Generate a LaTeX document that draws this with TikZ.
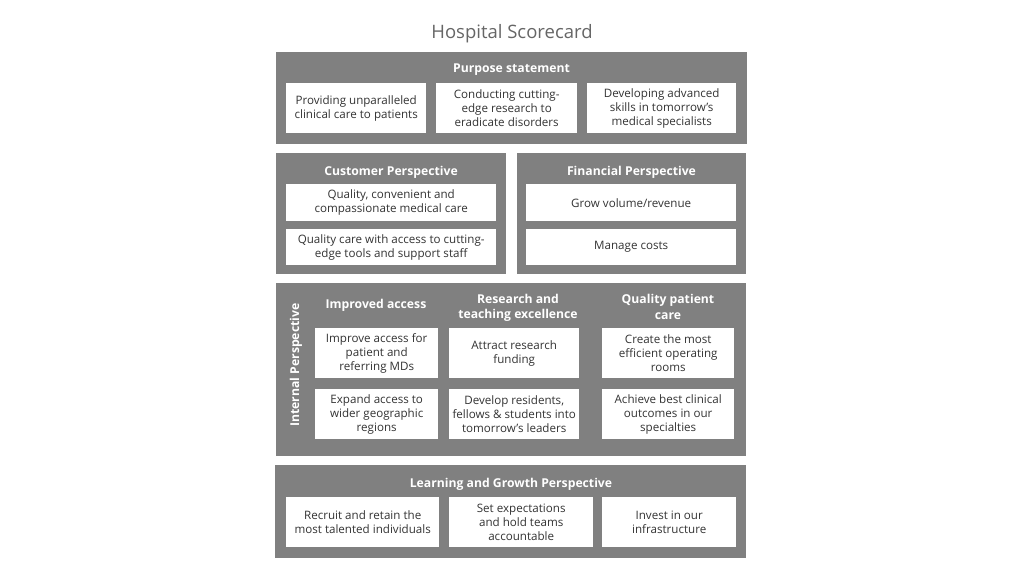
\documentclass[tikz,border=0pt]{standalone}
\usepackage{fontspec}
\setmainfont{Open Sans}
\usetikzlibrary{positioning}
\definecolor{panelgray}{HTML}{808080}
\definecolor{textgray}{HTML}{333333}
\definecolor{titlegray}{HTML}{666666}
\tikzset{
    panel/.style={
        rectangle,
        fill=panelgray,
        anchor=north west,
        inner sep=0pt,
    },
    card/.style={
        rectangle,
        fill=white,
        anchor=north west,
        inner sep=0pt,
        align=center,
        text=textgray,
        font=\fontsize{11.6}{14.2}\selectfont,
    },
    head/.style={
        text=white,
        align=center,
        font=\fontsize{12.2}{15.5}\selectfont\bfseries,
    },
  }

\begin{document}
\begin{tikzpicture}[x=1pt,y=-1pt]
              \useasboundingbox (0,0) rectangle (1024,576);
              \node [text=titlegray,font=\fontsize{18.5}{22}\selectfont] (title) at (512,34) {Hospital Scorecard};

              % purpose statement
              \node [panel,minimum width=471pt,minimum height=92pt] (purpose) at (276,52) {};
              \node [head] (purposehead) at (511.5,70) {Purpose statement};
              \node [card,minimum width=140pt,minimum height=50pt] (pur1) at (286,83) {Providing unparalleled\\clinical care to patients};
              \node [card,minimum width=141pt,minimum height=50pt] (pur2) at (436,83) {Conducting cutting-\\edge research to\\eradicate disorders};
              \node [card,minimum width=149pt,minimum height=50pt] (pur3) at (587,83) {Developing advanced\\skills in tomorrow’s\\medical specialists};

              % customer and financial
              \node [panel,minimum width=230pt,minimum height=121pt] (customer) at (276,153) {};
              \node [head] (customerhead) at (391,172) {Customer Perspective};
              \node [card,minimum width=210pt,minimum height=37pt] (cus1) at (286,184) {Quality, convenient and\\compassionate medical care};
              \node [card,minimum width=210pt,minimum height=36pt] (cus2) at (286,229) {Quality care with access to cutting-\\edge tools and support staff};

              \node [panel,minimum width=229pt,minimum height=121pt] (financial) at (517,153) {};
              \node [head] (financialhead) at (631.5,172) {Financial Perspective};
              \node [card,minimum width=210pt,minimum height=37pt] (fin1) at (526,184) {Grow volume/revenue};
              \node [card,minimum width=210pt,minimum height=36pt] (fin2) at (526,229) {Manage costs};

              % internal
              \node [panel,minimum width=470pt,minimum height=173pt] (internal) at (276,283) {};
              \node [head,rotate=90] (internalhead) at (296,365) {Internal Perspective};
              \node [head] (acchead) at (376,305) {Improved access};
              \node [head] (reshead) at (518,308) {Research and\\teaching excellence};
              \node [head] (qualhead) at (668,307) {Quality patient\\care};
              \node [card,minimum width=123pt,minimum height=50pt] (acc1) at (315,328) {Improve access for\\patient and\\referring MDs};
              \node [card,minimum width=123pt,minimum height=50pt] (acc2) at (315,389) {Expand access to\\wider geographic\\regions};
              \node [card,minimum width=130pt,minimum height=50pt] (res1) at (449,328) {Attract research\\funding};
              \node [card,minimum width=130pt,minimum height=50pt] (res2) at (449,389) {Develop residents,\\fellows \& students into\\tomorrow’s leaders};
              \node [card,minimum width=132pt,minimum height=50pt] (qual1) at (602,328) {Create the most\\efficient operating\\rooms};
              \node [card,minimum width=132pt,minimum height=50pt] (qual2) at (602,389) {Achieve best clinical\\outcomes in our\\specialties};

              % learning and growth
              \node [panel,minimum width=471pt,minimum height=93pt] (learning) at (275,465) {};
              \node [head] (learninghead) at (511,484) {Learning and Growth Perspective};
              \node [card,minimum width=153pt,minimum height=50pt] (lea1) at (286,497) {Recruit and retain the\\most talented individuals};
              \node [card,minimum width=144pt,minimum height=50pt] (lea2) at (449,497) {Set expectations\\and hold teams\\accountable};
              \node [card,minimum width=134pt,minimum height=50pt] (lea3) at (602,497) {Invest in our\\infrastructure};

            \end{tikzpicture}
\end{document}
